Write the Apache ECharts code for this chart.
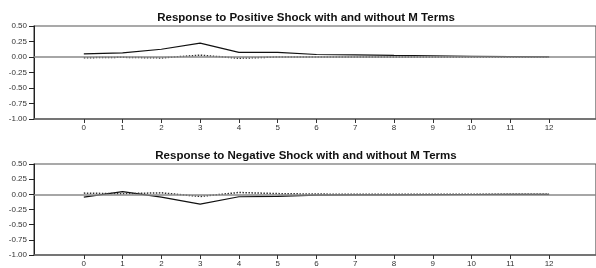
<!DOCTYPE html>
<html>
<head>
<meta charset="utf-8">
<script src="https://cdn.jsdelivr.net/npm/echarts@6/dist/echarts.min.js"></script>
<style>
  html, body { margin: 0; padding: 0; background: #fff; }
  #chart { width: 596px; height: 268px; }
</style>
</head>
<body>
<div id="chart"></div>
<script>
// horizon steps and y tick values
var steps = [0, 1, 2, 3, 4, 5, 6, 7, 8, 9, 10, 11, 12];
var yTicks = [0.5, 0.25, 0, -0.25, -0.5, -0.75, -1];

// response to positive shock
var posWithM = [0.05, 0.065, 0.125, 0.225, 0.075, 0.075, 0.04, 0.035, 0.025, 0.02, 0.012, 0.006, 0.002];
var posWithoutM = [-0.012, -0.005, -0.015, 0.03, -0.02, 0.0, 0.002, 0.0, 0.0, 0.0, 0.0, 0.0, 0.0];

// response to negative shock
var negWithM = [-0.045, 0.045, -0.045, -0.16, -0.04, -0.035, -0.012, -0.01, -0.008, -0.005, -0.003, -0.002, -0.001];
var negWithoutM = [0.02, 0.01, 0.025, -0.035, 0.03, 0.012, 0.004, 0.002, 0.001, 0.0, 0.0, 0.0, 0.0];

var titles = [
    'Response to Positive Shock with and without M Terms',
    'Response to Negative Shock with and without M Terms'
];

var chart = echarts.init(document.getElementById('chart'));

function pairs(vals) {
    return steps.map(function (s, i) { return [s, vals[i]]; });
}

var font = 'Arial, "Liberation Sans", sans-serif';

function xAxisFor(idx) {
    return {
        type: 'value',
        gridIndex: idx,
        min: -1.285,
        max: 13.21,
        axisLine: { show: true, onZero: false, lineStyle: { color: '#666', width: 1.5 } },
        axisTick: { show: true, customValues: steps, length: 4, lineStyle: { color: '#333' } },
        axisLabel: { customValues: steps, color: '#333', fontSize: 8, fontFamily: font, margin: 5 },
        splitLine: { show: false }
    };
}

function yAxisFor(idx) {
    return {
        type: 'value',
        gridIndex: idx,
        min: -1,
        max: 0.5,
        interval: 0.25,
        axisLine: { show: true, onZero: false, lineStyle: { color: '#222', width: 1 } },
        axisTick: { show: true, length: 5, lineStyle: { color: '#222' } },
        axisLabel: {
            color: '#333', fontSize: 8, fontFamily: font, margin: 7,
            formatter: function (v) { return v.toFixed(2); }
        },
        splitLine: { show: false }
    };
}

function zeroLine() {
    return {
        silent: true,
        symbol: 'none',
        label: { show: false },
        lineStyle: { color: '#888', width: 1.5, type: 'solid' },
        data: [{ yAxis: 0 }]
    };
}

var option = {
    animation: false,
    title: [
        { text: titles[0], left: 301, top: 7, textAlign: 'center',
          textStyle: { fontSize: 11.5, fontWeight: 'bold', color: '#111', fontFamily: font } },
        { text: titles[1], left: 301, top: 145, textAlign: 'center',
          textStyle: { fontSize: 11.5, fontWeight: 'bold', color: '#111', fontFamily: font } }
    ],
    grid: [
        { left: 34, top: 26, right: -2, height: 93, show: true, borderColor: '#555', borderWidth: 1.2 },
        { left: 34, top: 164, right: -2, height: 92, show: true, borderColor: '#555', borderWidth: 1.2 }
    ],
    xAxis: [xAxisFor(0), xAxisFor(1)],
    yAxis: [yAxisFor(0), yAxisFor(1)],
    series: [
        { type: 'line', xAxisIndex: 0, yAxisIndex: 0, data: pairs(posWithM), symbol: 'none',
          lineStyle: { color: '#111', width: 1.2 }, markLine: zeroLine(), z: 3 },
        { type: 'line', xAxisIndex: 0, yAxisIndex: 0, data: pairs(posWithoutM), symbol: 'none',
          lineStyle: { color: '#333', width: 1.5, type: 'dotted' }, z: 4 },
        { type: 'line', xAxisIndex: 1, yAxisIndex: 1, data: pairs(negWithM), symbol: 'none',
          lineStyle: { color: '#111', width: 1.2 }, markLine: zeroLine(), z: 3 },
        { type: 'line', xAxisIndex: 1, yAxisIndex: 1, data: pairs(negWithoutM), symbol: 'none',
          lineStyle: { color: '#333', width: 1.5, type: 'dotted' }, z: 4 }
    ]
};

chart.setOption(option);
</script>
</body>
</html>
